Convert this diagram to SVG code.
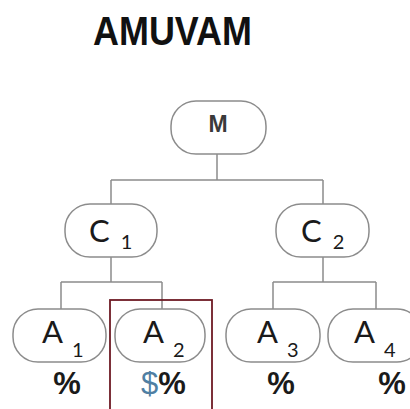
<svg xmlns="http://www.w3.org/2000/svg" width="410" height="409" viewBox="0 0 410 409">
<style>
.node{fill:#fff;stroke:#8c8c8c;stroke-width:1.5}
.lbl{font-family:Lato,"Open Sans","Liberation Sans",sans-serif;font-size:31px;fill:#1a1a1a}
.sub{font-size:20px}
.pct{font-family:"Liberation Sans",Arial,sans-serif;font-weight:bold;font-size:31px;fill:#1a1a1a}
.conn{fill:none;stroke:#8c8c8c;stroke-width:1.5}
</style>
<rect width="410" height="409" fill="#fff"/>
<text x="93" y="45" font-family="'Liberation Sans',Arial,sans-serif" font-weight="bold" font-size="41" fill="#111" textLength="159" lengthAdjust="spacingAndGlyphs">AMUVAM</text>
<g id="connectors">
<path class="conn" d="M217 154V180M111 180H323M111 180V204M323 180V204"/>
<path class="conn" d="M111 257V282M61 282H162M61 282V309M162 282V309"/>
<path class="conn" d="M323 257V282M273 282H376M273 282V309M376 282V309"/>
</g>
<g id="M">
<rect class="node" x="171" y="101" width="95" height="53" rx="25"/>
<text x="218" y="132" text-anchor="middle" font-family="'Liberation Sans',Arial,sans-serif" font-weight="bold" font-size="23" fill="#3a3a3a">M</text>
</g>
<g id="C1">
<rect class="node" x="65" y="204" width="92" height="53" rx="25"/>
<text class="lbl" x="89" y="242">C<tspan class="sub" dx="11" dy="7">1</tspan></text>
</g>
<g id="C2">
<rect class="node" x="276" y="204" width="93" height="53" rx="25"/>
<text class="lbl" x="301" y="242">C<tspan class="sub" dx="11" dy="7">2</tspan></text>
</g>
<g id="A1">
<rect class="node" x="13" y="309" width="93" height="53" rx="25"/>
<text class="lbl" x="42" y="343">A<tspan class="sub" dx="9" dy="14">1</tspan></text>
<text class="pct" x="67" y="394" text-anchor="middle">%</text>
</g>
<g id="A2">
<rect class="node" x="115" y="309" width="90" height="53" rx="25"/>
<text class="lbl" x="143" y="343">A<tspan class="sub" dx="9" dy="14">2</tspan></text>
<text class="pct" x="141" y="394"><tspan fill="#4f7fa3" font-weight="normal">$</tspan>%</text>
</g>
<g id="A3">
<rect class="node" x="226" y="309" width="94" height="53" rx="25"/>
<text class="lbl" x="257" y="343">A<tspan class="sub" dx="9" dy="14">3</tspan></text>
<text class="pct" x="281" y="394" text-anchor="middle">%</text>
</g>
<g id="A4">
<rect class="node" x="328" y="309" width="94" height="53" rx="25"/>
<text class="lbl" x="354" y="343">A<tspan class="sub" dx="9" dy="14">4</tspan></text>
<text class="pct" x="392" y="394" text-anchor="middle">%</text>
</g>
<rect id="highlight" x="110" y="300" width="102" height="115" fill="none" stroke="#6e1a24" stroke-width="1.8"/>
</svg>
